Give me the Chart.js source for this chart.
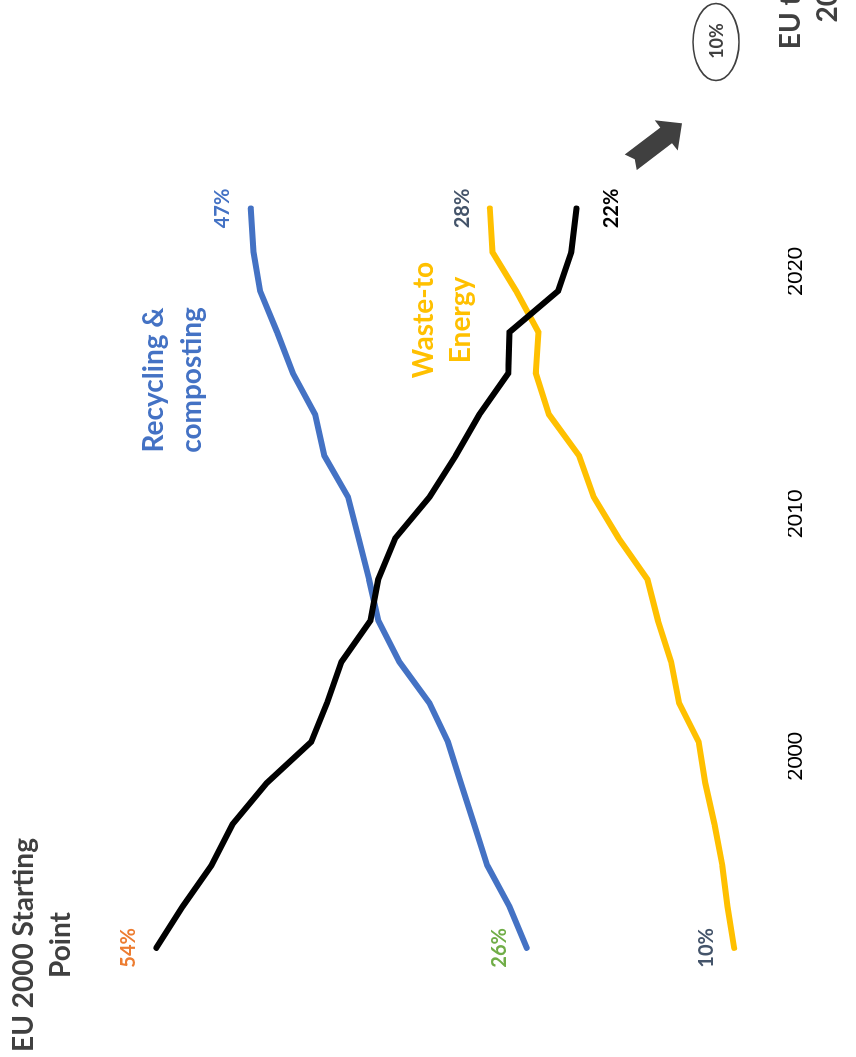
<!DOCTYPE html>
<html>
<head>
<meta charset="utf-8">
<script src="https://cdn.jsdelivr.net/npm/chart.js@4"></script>
<style>
  html, body { margin: 0; padding: 0; background: #fff; overflow: hidden; }
  /* the chart is drawn landscape and turned a quarter turn to the left */
  #wrap {
    position: absolute; left: 0; top: 0;
    width: 1057px; height: 856px;
    transform-origin: 0 0;
    transform: translateY(1057px) rotate(-90deg);
  }
</style>
</head>
<body>
<div id="wrap"><canvas id="wasteChart" width="1057" height="856"></canvas></div>
<script>
const years = [1992.1, 1993.8, 1995.5, 1997.2, 1998.9, 2000.6, 2002.2, 2003.9, 2005.6, 2007.3,
  2009.0, 2010.7, 2012.4, 2014.1, 2015.8, 2017.5, 2019.2, 2020.8, 2022.6];
const landfill = [54.0, 52.0, 49.8, 48.2, 45.6, 42.2, 41.0, 39.9, 37.7, 37.1,
  35.8, 33.2, 31.2, 29.4, 27.2, 27.1, 23.4, 22.4, 22.0];
const recycling = [25.8, 27.1, 28.8, 29.8, 30.8, 31.8, 33.2, 35.5, 37.1, 37.8,
  38.6, 39.4, 41.2, 41.9, 43.6, 44.8, 46.1, 46.6, 46.8];
const wasteToEnergy = [10.0, 10.5, 10.9, 11.5, 12.2, 12.7, 14.2, 14.8, 15.8, 16.6,
  18.8, 20.7, 21.8, 24.1, 25.1, 24.9, 26.6, 28.4, 28.6];
const yearTicks = [2000, 2010, 2020];
const startLabels = ["54%", "26%", "10%"];
const endLabels = ["22%", "47%", "28%"];
const targetLabel = "10%";

const FONT = "Lato";
const GREY = "#404040";

const toPoints = (vals) => vals.map((v, i) => ({ x: years[i], y: v }));

function capText(ctx, text, x, yMid, size, color) {
  ctx.font = `bold ${size}px ${FONT}`;
  ctx.fillStyle = color;
  ctx.textAlign = "center";
  ctx.textBaseline = "alphabetic";
  ctx.fillText(text, x, yMid + size * 0.36);
}

function lines(ctx, texts, x, baselines, size, color) {
  ctx.font = `bold ${size}px ${FONT}`;
  ctx.fillStyle = color;
  ctx.textAlign = "center";
  ctx.textBaseline = "alphabetic";
  texts.forEach((t, i) => ctx.fillText(t, x, baselines[i]));
}

function blockArrow(ctx, x0, y0, x1, y1) {
  const len = Math.hypot(x1 - x0, y1 - y0);
  const sw = 9.8, hw = 19, hl = 20, notch = 5;
  ctx.save();
  ctx.translate(x0, y0);
  ctx.rotate(Math.atan2(y1 - y0, x1 - x0));
  ctx.beginPath();
  ctx.moveTo(0, -sw);
  ctx.lineTo(len - hl, -sw);
  ctx.lineTo(len - hl, -hw);
  ctx.lineTo(len, 0);
  ctx.lineTo(len - hl, hw);
  ctx.lineTo(len - hl, sw);
  ctx.lineTo(0, sw);
  ctx.lineTo(notch, 0);
  ctx.closePath();
  ctx.fillStyle = GREY;
  ctx.fill();
  ctx.restore();
}

const annotations = {
  id: "annotations",
  afterDraw(chart) {
    const ctx = chart.ctx;
    const colorsStart = ["#ED7D31", "#70AD47", "#44546A"];
    const colorsEnd = ["#000000", "#4472C4", "#44546A"];
    const endShift = [34, -29, -28];
    ctx.save();
    // value labels at both ends of each line (dataset order: landfill, recycling, wte)
    const order = [0, 1, 2];
    const startOrder = [0, 1, 2];
    startOrder.forEach((d, k) => {
      const p = chart.getDatasetMeta(d).data[0];
      capText(ctx, startLabels[k], p.x, p.y - 28, 20, colorsStart[k]);
    });
    order.forEach((d, k) => {
      const pts = chart.getDatasetMeta(d).data;
      const p = pts[pts.length - 1];
      capText(ctx, endLabels[k], p.x, p.y + endShift[k], 20, colorsEnd[k]);
    });

    lines(ctx, ["EU 2000 Starting", "Point"], 112, [33, 70], 28, GREY);
    lines(ctx, ["Recycling &", "composting"], 677, [163, 201], 28, "#4472C4");
    lines(ctx, ["Waste-to", "Energy"], 737, [433, 470], 28, "#FFC000");
    lines(ctx, ["EU target", "2035"], 1067, [800, 837], 28, GREY);

    // target oval
    ctx.beginPath();
    ctx.ellipse(1015, 716, 38.5, 23, 0, 0, Math.PI * 2);
    ctx.lineWidth = 1.6;
    ctx.strokeStyle = GREY;
    ctx.stroke();
    capText(ctx, targetLabel, 1016, 716.5, 18, GREY);

    blockArrow(ctx, 894.7, 630.8, 933.7, 682.1);
    ctx.restore();
  }
};

new Chart(document.getElementById("wasteChart").getContext("2d"), {
  type: "line",
  data: {
    datasets: [
      { label: "Landfill", data: toPoints(landfill), borderColor: "#000000" },
      { label: "Recycling & composting", data: toPoints(recycling), borderColor: "#4472C4" },
      { label: "Waste-to Energy", data: toPoints(wasteToEnergy), borderColor: "#FFC000" },
    ],
  },
  options: {
    responsive: false,
    animation: false,
    layout: { padding: 0 },
    elements: {
      point: { radius: 0, hoverRadius: 0 },
      line: { borderWidth: 6, tension: 0, borderCapStyle: "round", fill: false },
    },
    scales: {
      x: {
        type: "linear",
        min: 1987.6,
        max: 2031.2,
        grid: { display: false, drawTicks: false },
        border: { display: false },
        afterBuildTicks: (s) => { s.ticks = yearTicks.map((v) => ({ value: v })); },
        afterFit: (s) => { s.height = 68; },
        ticks: {
          padding: -5,
          color: "#000000",
          font: { family: FONT, size: 21 },
          callback: (v) => String(v),
        },
      },
      y: { display: false, min: 5.9, max: 65.9 },
    },
    plugins: {
      legend: { display: false },
      tooltip: { enabled: false },
    },
  },
  plugins: [annotations],
});
</script>
</body>
</html>
